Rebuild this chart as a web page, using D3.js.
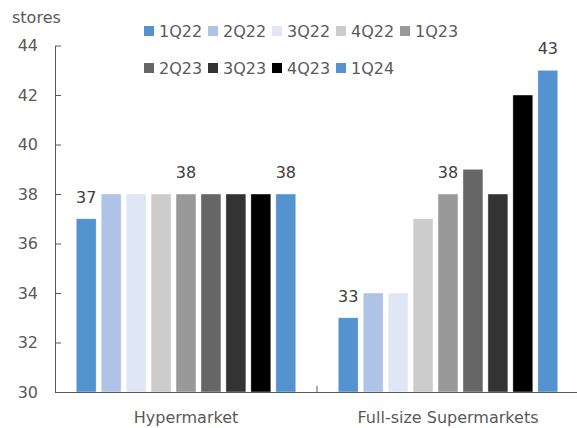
<!DOCTYPE html>
<html>
<head>
<meta charset="utf-8">
<script src="https://cdn.jsdelivr.net/npm/d3@7"></script>
<style>
  html, body { margin: 0; padding: 0; background: #fff; }
  svg { display: block; }
  svg text { font-family: "DejaVu Sans", Verdana, sans-serif; }
</style>
</head>
<body>
<svg id="chart" width="577" height="428"></svg>
<script>
// Store counts by format and quarter
const categories = ["Hypermarket", "Full-size Supermarkets"];
const quarters = ["1Q22", "2Q22", "3Q22", "4Q22", "1Q23", "2Q23", "3Q23", "4Q23", "1Q24"];
const hypermarket = [37, 38, 38, 38, 38, 38, 38, 38, 38];
const supermarkets = [33, 34, 34, 37, 38, 39, 38, 42, 43];
const quarterColors = ["#5592d0", "#aec3e6", "#dfe6f6", "#cccccc", "#999999", "#666666", "#333333", "#000000", "#5592d0"];
const labelledQuarters = ["1Q22", "1Q23", "1Q24"];
const yTicks = [30, 32, 34, 36, 38, 40, 42, 44];
const unitLabel = "stores";

const seriesByCategory = [hypermarket, supermarkets];
const rows = categories.map((c, i) => ({
  category: c,
  values: quarters.map((q, j) => ({ quarter: q, value: seriesByCategory[i][j] }))
}));

const svg = d3.select("#chart");
const axisColor = "#595959";
const textColor = "#595959";
const labelColor = "#404040";
const fontSize = 16;

const plot = { left: 55, right: 579, top: 45.5, bottom: 392 };

const x0 = d3.scaleBand().domain(categories).range([plot.left, plot.right]).paddingInner(0).paddingOuter(0);
const x1 = d3.scaleBand().domain(quarters).range([0, x0.bandwidth()]).paddingInner(0.2).paddingOuter(0.85);
const y = d3.scaleLinear().domain([30, 44]).range([plot.bottom, plot.top]);
const color = d3.scaleOrdinal().domain(quarters).range(quarterColors);

// Bars
const groups = svg.append("g").selectAll("g")
  .data(rows).join("g")
  .attr("transform", d => `translate(${x0(d.category)},0)`);

groups.selectAll("rect")
  .data(d => d.values).join("rect")
  .attr("x", d => x1(d.quarter))
  .attr("y", d => y(d.value))
  .attr("width", x1.bandwidth())
  .attr("height", d => y(30) - y(d.value))
  .attr("fill", d => color(d.quarter))
  .attr("stroke", "#ffffff")
  .attr("stroke-width", 0.6)
  .attr("stroke-opacity", 0.7);

// Value labels on selected quarters
groups.selectAll("text.value")
  .data(d => d.values.filter(v => labelledQuarters.includes(v.quarter))).join("text")
  .attr("class", "value")
  .attr("x", d => x1(d.quarter) + x1.bandwidth() / 2)
  .attr("y", d => y(d.value) - 16)
  .attr("text-anchor", "middle")
  .attr("font-size", fontSize)
  .attr("fill", labelColor)
  .text(d => d.value);

// Y axis with inward ticks
const yAxis = svg.append("g")
  .attr("transform", `translate(${plot.left},0)`)
  .call(d3.axisLeft(y).tickValues(yTicks).tickFormat(d3.format("d")).tickSizeInner(-6).tickSizeOuter(0).tickPadding(17))
  .attr("font-family", null)
  .attr("font-size", fontSize);
yAxis.select(".domain").attr("stroke", axisColor);
yAxis.selectAll(".tick line").attr("stroke", axisColor);
yAxis.selectAll(".tick text").attr("fill", textColor);

// X axis: category labels
const xAxis = svg.append("g")
  .attr("transform", `translate(0,${plot.bottom})`)
  .call(d3.axisBottom(x0).tickSize(0).tickPadding(20))
  .attr("font-family", null)
  .attr("font-size", fontSize);
xAxis.select(".domain").attr("stroke", axisColor);
xAxis.selectAll(".tick text").attr("fill", textColor);

// X axis: tick marks at category boundaries
const boundaries = categories.map(c => x0(c) + x0.bandwidth());
svg.append("g").selectAll("line")
  .data(boundaries).join("line")
  .attr("x1", d => d).attr("x2", d => d)
  .attr("y1", plot.bottom).attr("y2", plot.bottom - 6)
  .attr("stroke", axisColor);

// Unit label
svg.append("text")
  .attr("x", 12).attr("y", 23)
  .attr("font-size", fontSize).attr("fill", textColor)
  .text(unitLabel);

// Legend
const legend = svg.append("g").selectAll("g")
  .data(quarters).join("g")
  .attr("transform", (d, i) => `translate(${144 + (i % 5) * 64},${26 + Math.floor(i / 5) * 37})`);
legend.append("rect")
  .attr("width", 10).attr("height", 10)
  .attr("fill", d => color(d));
legend.append("text")
  .attr("x", 15).attr("y", 10.5)
  .attr("font-size", fontSize).attr("fill", textColor)
  .text(d => d);
</script>
</body>
</html>
